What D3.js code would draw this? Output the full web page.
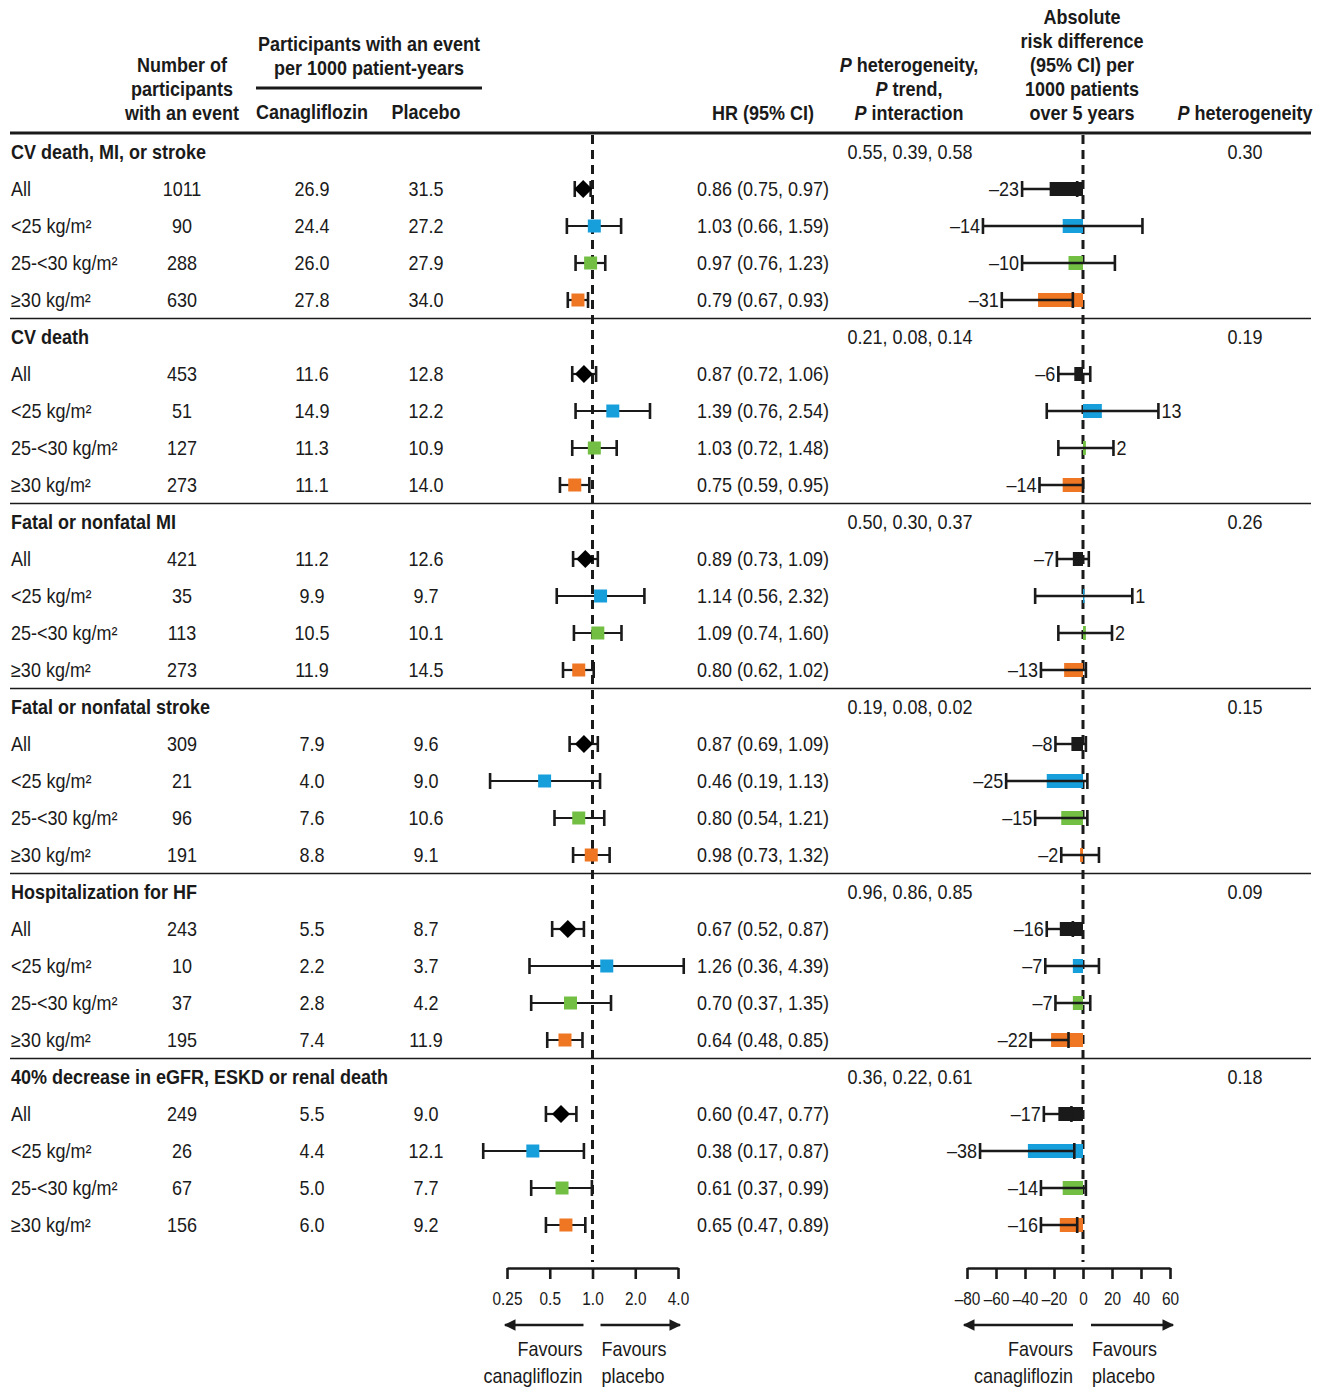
<!DOCTYPE html>
<html>
<head>
<meta charset="utf-8">
<script src="https://cdn.jsdelivr.net/npm/d3@7"></script>
<style>
  html, body { margin: 0; padding: 0; background: #fff; }
  svg { display: block; font-family: "Liberation Sans", Arial, sans-serif; }
  .hdr { font-weight: bold; font-size: 20px; fill: #1a1a1a; }
  .txt { font-size: 20px; fill: #1a1a1a; }
  .tick text { font-size: 18px; fill: #1a1a1a; font-family: "Liberation Sans", Arial, sans-serif; }
</style>
</head>
<body>
<svg id="chart" width="1325" height="1389"></svg>
<script>
// ---- data ----
const outcomes = [
  "CV death, MI, or stroke",
  "CV death",
  "Fatal or nonfatal MI",
  "Fatal or nonfatal stroke",
  "Hospitalization for HF",
  "40% decrease in eGFR, ESKD or renal death"
];
const subgroups = ["All", "<25 kg/m²", "25-<30 kg/m²", "≥30 kg/m²"];
const subgroupColors = ["#1a1a1a", "#179fdb", "#72bf44", "#ef7622"];

const events = [
  [1011, 90, 288, 630],
  [453, 51, 127, 273],
  [421, 35, 113, 273],
  [309, 21, 96, 191],
  [243, 10, 37, 195],
  [249, 26, 67, 156]
];
const canaRate = [
  [26.9, 24.4, 26.0, 27.8],
  [11.6, 14.9, 11.3, 11.1],
  [11.2, 9.9, 10.5, 11.9],
  [7.9, 4.0, 7.6, 8.8],
  [5.5, 2.2, 2.8, 7.4],
  [5.5, 4.4, 5.0, 6.0]
];
const placeboRate = [
  [31.5, 27.2, 27.9, 34.0],
  [12.8, 12.2, 10.9, 14.0],
  [12.6, 9.7, 10.1, 14.5],
  [9.6, 9.0, 10.6, 9.1],
  [8.7, 3.7, 4.2, 11.9],
  [9.0, 12.1, 7.7, 9.2]
];
const hr = [
  [0.86, 1.03, 0.97, 0.79],
  [0.87, 1.39, 1.03, 0.75],
  [0.89, 1.14, 1.09, 0.80],
  [0.87, 0.46, 0.80, 0.98],
  [0.67, 1.26, 0.70, 0.64],
  [0.60, 0.38, 0.61, 0.65]
];
const hrLow = [
  [0.75, 0.66, 0.76, 0.67],
  [0.72, 0.76, 0.72, 0.59],
  [0.73, 0.56, 0.74, 0.62],
  [0.69, 0.19, 0.54, 0.73],
  [0.52, 0.36, 0.37, 0.48],
  [0.47, 0.17, 0.37, 0.47]
];
const hrHigh = [
  [0.97, 1.59, 1.23, 0.93],
  [1.06, 2.54, 1.48, 0.95],
  [1.09, 2.32, 1.60, 1.02],
  [1.09, 1.13, 1.21, 1.32],
  [0.87, 4.39, 1.35, 0.85],
  [0.77, 0.87, 0.99, 0.89]
];
const pHetTrendInt = [
  "0.55, 0.39, 0.58",
  "0.21, 0.08, 0.14",
  "0.50, 0.30, 0.37",
  "0.19, 0.08, 0.02",
  "0.96, 0.86, 0.85",
  "0.36, 0.22, 0.61"
];
// absolute risk difference per 1000 patients over 5 years
const rd = [
  [-23, -14, -10, -31],
  [-6, 13, 2, -14],
  [-7, 1, 2, -13],
  [-8, -25, -15, -2],
  [-16, -7, -7, -22],
  [-17, -38, -14, -16]
];
const rdLow = [
  [-42, -69, -42, -56],
  [-17, -25, -17, -30],
  [-18, -33, -17, -29],
  [-19, -53, -33, -15],
  [-25, -26, -19, -36],
  [-27, -71, -29, -29]
];
const rdHigh = [
  [-4, 41, 22, -7],
  [5, 52, 21, 0],
  [4, 34, 20, 2],
  [2, 3, 3, 11],
  [-7, 11, 5, -10],
  [-8, -6, 2, -4]
];
const pHetRD = ["0.30", "0.19", "0.26", "0.15", "0.09", "0.18"];
const hrTicks = [0.25, 0.5, 1, 2, 4];
const hrTickLabels = ["0.25", "0.5", "1.0", "2.0", "4.0"];
const rdTicks = [-80, -60, -40, -20, 0, 20, 40, 60];

// ---- layout ----
const svg = d3.select("#chart");
const ink = "#1a1a1a";
const narrow = 0.9;   // horizontal squeeze giving a condensed face
const col = { label: 11, events: 182, cana: 312, placebo: 426, hrText: 763, pTrip: 910, pHet: 1245 };
const left = 10, right = 1311;
const slotsPerSection = subgroups.length + 1;
const nSlots = outcomes.length * slotsPerSection;
const y = d3.scaleLinear().domain([0, nSlots - 1]).range([152, 152 + (nSlots - 1) * 37]);
const rowStep = y(1) - y(0);
const xHR = d3.scaleLog().base(2).domain([0.25, 4]).range([507, 678]);
const xRD = d3.scaleLinear().domain([-80, 60]).range([967, 1170]);
const axisY = 1268;
const dashTop = 135, dashBottom = 1262;
const minus = v => String(v).replace("-", "\u2013");
const f2 = d3.format(".2f");

// condensed text helper; parts = [{t, i}] for mixed italic runs
function label(parent, x, yy, content, cls, anchor) {
  const t = parent.append("text").attr("class", cls || "txt")
    .attr("transform", `translate(${x},${yy}) scale(${narrow},1)`)
    .attr("dy", "0.35em").attr("text-anchor", anchor || "middle");
  if (Array.isArray(content)) {
    content.forEach(p => t.append("tspan").text(p.t).attr("font-style", p.i ? "italic" : null));
  } else {
    t.text(content);
  }
  return t;
}

// ---- header ----
const hdr = svg.append("g");
function hLines(lines, x, y0, anchor) {
  lines.forEach((ln, i) => label(hdr, x, y0 + i * 24, ln, "hdr", anchor));
}
hLines(["Number of", "participants", "with an event"], col.events, 65);
hLines(["Participants with an event", "per 1000 patient-years"], 369, 44);
hLines(["Canagliflozin"], col.cana, 112);
hLines(["Placebo"], col.placebo, 112);
hLines(["HR (95% CI)"], col.hrText, 113);
hLines([[{t: "P", i: true}, {t: " heterogeneity,"}], [{t: "P", i: true}, {t: " trend,"}], [{t: "P", i: true}, {t: " interaction"}]], 909, 65);
hLines(["Absolute", "risk difference", "(95% CI) per", "1000 patients", "over 5 years"], 1082, 17);
hLines([[{t: "P", i: true}, {t: " heterogeneity"}]], col.pHet, 113);

svg.append("line").attr("x1", 256).attr("x2", 482).attr("y1", 88).attr("y2", 88)
  .attr("stroke", ink).attr("stroke-width", 3);
svg.append("line").attr("x1", left).attr("x2", right).attr("y1", 133).attr("y2", 133)
  .attr("stroke", ink).attr("stroke-width", 3);

// ---- section separators ----
outcomes.forEach((o, i) => {
  if (i < outcomes.length - 1) {
    const ySep = y(i * slotsPerSection + subgroups.length) + rowStep / 2;
    svg.append("line").attr("x1", left).attr("x2", right).attr("y1", ySep).attr("y2", ySep)
      .attr("stroke", ink).attr("stroke-width", 1.6);
  }
});

// ---- reference lines ----
svg.append("line").attr("x1", xHR(1)).attr("x2", xHR(1)).attr("y1", dashTop).attr("y2", dashBottom)
  .attr("stroke", ink).attr("stroke-width", 3).attr("stroke-dasharray", "9,6");
svg.append("line").attr("x1", xRD(0)).attr("x2", xRD(0)).attr("y1", dashTop).attr("y2", dashBottom)
  .attr("stroke", ink).attr("stroke-width", 3).attr("stroke-dasharray", "9,6");

// ---- table rows & marks ----
const body = svg.append("g");
outcomes.forEach((o, i) => {
  const yt = y(i * slotsPerSection);
  label(body, col.label, yt, o, "hdr", "start");
  label(body, col.pTrip, yt, pHetTrendInt[i]);
  label(body, col.pHet, yt, pHetRD[i]);

  subgroups.forEach((s, j) => {
    const yr = y(i * slotsPerSection + j + 1);
    const g = body.append("g");
    label(g, col.label, yr, s, "txt", "start");
    label(g, col.events, yr, events[i][j]);
    label(g, col.cana, yr, canaRate[i][j].toFixed(1));
    label(g, col.placebo, yr, placeboRate[i][j].toFixed(1));
    label(g, col.hrText, yr, `${f2(hr[i][j])} (${f2(hrLow[i][j])}, ${f2(hrHigh[i][j])})`);

    // hazard ratio whisker + marker
    const capH = 16;
    g.append("line").attr("x1", xHR(hrLow[i][j])).attr("x2", xHR(hrHigh[i][j]))
      .attr("y1", yr).attr("y2", yr).attr("stroke", ink).attr("stroke-width", 2.2);
    [hrLow[i][j], hrHigh[i][j]].forEach(v => {
      g.append("line").attr("x1", xHR(v)).attr("x2", xHR(v)).attr("y1", yr - capH / 2).attr("y2", yr + capH / 2)
        .attr("stroke", ink).attr("stroke-width", 2.6);
    });
    const cx = xHR(hr[i][j]);
    if (j === 0) {
      g.append("path").attr("d", `M${cx - 9},${yr} L${cx},${yr - 9} L${cx + 9},${yr} L${cx},${yr + 9} Z`)
        .attr("fill", "#000");
    } else {
      g.append("rect").attr("x", cx - 6.5).attr("y", yr - 6.5).attr("width", 13).attr("height", 13)
        .attr("fill", subgroupColors[j]);
    }

    // absolute risk difference bar + whisker
    const v = rd[i][j], lo = rdLow[i][j], hi = rdHigh[i][j];
    const barH = 14;
    g.append("rect").attr("x", Math.min(xRD(0), xRD(v))).attr("y", yr - barH / 2)
      .attr("width", Math.abs(xRD(v) - xRD(0))).attr("height", barH)
      .attr("fill", subgroupColors[j]);
    g.append("line").attr("x1", xRD(lo)).attr("x2", xRD(hi)).attr("y1", yr).attr("y2", yr)
      .attr("stroke", ink).attr("stroke-width", 2.4);
    [lo, hi].forEach(c => {
      g.append("line").attr("x1", xRD(c)).attr("x2", xRD(c)).attr("y1", yr - capH / 2).attr("y2", yr + capH / 2)
        .attr("stroke", ink).attr("stroke-width", 2.6);
    });
    if (v < 0) {
      label(g, xRD(lo) - 3, yr, minus(v), "txt", "end");
    } else {
      label(g, xRD(hi) + 3, yr, minus(v), "txt", "start");
    }
  });
});

// ---- axes ----
const hrAxis = d3.axisBottom(xHR).tickValues(hrTicks).tickFormat((d, k) => hrTickLabels[k])
  .tickSize(11).tickSizeOuter(0).tickPadding(13);
const rdAxis = d3.axisBottom(xRD).tickValues(rdTicks).tickFormat(d => minus(d))
  .tickSize(11).tickSizeOuter(0).tickPadding(13);
[hrAxis, rdAxis].forEach(ax => {
  const a = svg.append("g").attr("transform", `translate(0,${axisY})`).call(ax);
  a.select(".domain").attr("stroke", ink).attr("stroke-width", 2.6);
  a.selectAll(".tick line").attr("stroke", ink).attr("stroke-width", 2.6);
  a.selectAll(".tick text").attr("fill", ink)
    .attr("transform", function () { return `translate(0,${this.getAttribute("y")}) scale(${narrow * 0.95},1)`; })
    .attr("y", 0);
});

// ---- direction arrows & captions ----
const defs = svg.append("defs");
defs.append("marker").attr("id", "arrowHead").attr("viewBox", "0 0 10 10").attr("refX", 9).attr("refY", 5)
  .attr("markerWidth", 5.5).attr("markerHeight", 4.5).attr("markerUnits", "strokeWidth").attr("orient", "auto")
  .append("path").attr("d", "M0,0 L10,5 L0,10 Z").attr("fill", ink);
const arrowY = 1325;
function arrow(x1, x2) {
  svg.append("line").attr("x1", x1).attr("x2", x2).attr("y1", arrowY).attr("y2", arrowY)
    .attr("stroke", ink).attr("stroke-width", 2.6).attr("marker-end", "url(#arrowHead)");
}
function caption(x, anchor, lines) {
  lines.forEach((ln, k) => label(svg, x, 1349 + k * 27, ln, "txt", anchor));
}
arrow(xHR(1) - 9, xHR(0.25) - 2);
arrow(xHR(1) + 8, xHR(4) + 2);
caption(xHR(1) - 10, "end", ["Favours", "canagliflozin"]);
caption(xHR(1) + 9, "start", ["Favours", "placebo"]);

arrow(xRD(0) - 10, xRD(-80) - 3);
arrow(xRD(0) + 8, xRD(60) + 3);
caption(xRD(0) - 10, "end", ["Favours", "canagliflozin"]);
caption(xRD(0) + 9, "start", ["Favours", "placebo"]);
</script>
</body>
</html>
